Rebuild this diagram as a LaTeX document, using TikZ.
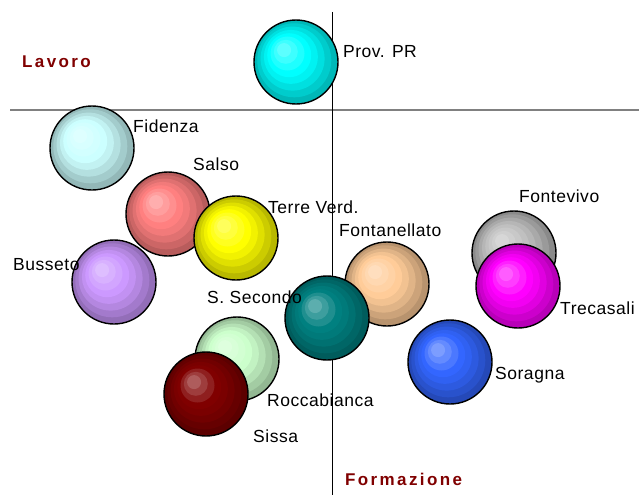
\documentclass[tikz,border=0pt]{standalone}
\usepackage{fontspec}
\setmainfont{Liberation Sans}

\definecolor{cProv}{RGB}{0,255,255}
\definecolor{cFid}{RGB}{204,255,255}
\definecolor{cSalso}{RGB}{255,128,128}
\definecolor{cTerre}{RGB}{255,255,0}
\definecolor{cBuss}{RGB}{204,153,255}
\definecolor{cFontan}{RGB}{255,204,153}
\definecolor{cSec}{RGB}{0,128,128}
\definecolor{cFontev}{RGB}{192,192,192}
\definecolor{cTrec}{RGB}{255,0,255}
\definecolor{cSor}{RGB}{51,102,255}
\definecolor{cRocca}{RGB}{204,255,204}
\definecolor{cSissa}{RGB}{128,0,0}
\definecolor{axislbl}{RGB}{128,0,0}

\tikzset{
  bubble/.style={circle,draw=black,line width=1.4pt,minimum size=84pt,inner sep=0pt,
    path picture={
      \foreach \k/\tint in {0/72!black,1/80!black,2/88!black,3/95!black,4/100,5/88!white,6/76!white,7/64!white}
        \fill[fill={#1!\tint},shift={(path picture bounding box.center)}]
          (-\k*1.7pt,\k*1.7pt) circle[radius=42pt-\k*5pt];
    }},
  lbl/.style={anchor=base west,inner sep=0pt,
    font=\fontsize{17.5}{20}\selectfont\addfontfeature{LetterSpace=3}},
  axlbl/.style={anchor=base west,inner sep=0pt,text=axislbl,
    font=\fontsize{17}{20}\selectfont\bfseries\addfontfeature{LetterSpace=14}}
}

\begin{document}
\begin{tikzpicture}[x=1pt,y=-1pt]
  \useasboundingbox (0,0) rectangle (639,495);

  % axes
  \coordinate (hl) at (10,110);
  \coordinate (hr) at (639,110);
  \coordinate (vt) at (332,12);
  \coordinate (vb) at (332,495);
  \draw[gray,line width=1.3pt] (hl) -- (hr);
  \draw[line width=1pt] (vt) -- (vb);

  % bubbles
  \node[bubble=cProv] (prov) at (296,62) {};
  \node[bubble=cFid] (fid) at (92,148) {};
  \node[bubble=cSalso] (salso) at (168,214) {};
  \node[bubble=cTerre] (terre) at (236,238) {};
  \node[bubble=cBuss] (buss) at (114,282) {};
  \node[bubble=cFontan] (fontan) at (387,284) {};
  \node[bubble=cSec] (sec) at (327,318) {};
  \node[bubble=cFontev] (fontev) at (514,253) {};
  \node[bubble=cTrec] (trec) at (518,286) {};
  \node[bubble=cSor] (sor) at (450,362) {};
  \node[bubble=cRocca] (rocca) at (237,359) {};
  \node[bubble=cSissa] (sissa) at (206,394) {};

  % labels
  \node[lbl] (provl) at (343,57) {Prov. PR};
  \node[lbl] (fidl) at (133,132) {Fidenza};
  \node[lbl] (salsol) at (193,170) {Salso};
  \node[lbl] (terrel) at (268,213) {Terre Verd.};
  \node[lbl] (fontanl) at (339,236) {Fontanellato};
  \node[lbl] (fontevl) at (519,202) {Fontevivo};
  \node[lbl] (bussl) at (13,270) {Busseto};
  \node[lbl] (secl) at (207,303) {S. Secondo};
  \node[lbl] (trecl) at (560,314) {Trecasali};
  \node[lbl] (sorl) at (495,379) {Soragna};
  \node[lbl] (roccal) at (267,406) {Roccabianca};
  \node[lbl] (sissal) at (253,442) {Sissa};

  \node[axlbl] (lavoro) at (22,67) {Lavoro};
  \node[axlbl] (formaz) at (345,485) {Formazione};
\end{tikzpicture}
\end{document}
